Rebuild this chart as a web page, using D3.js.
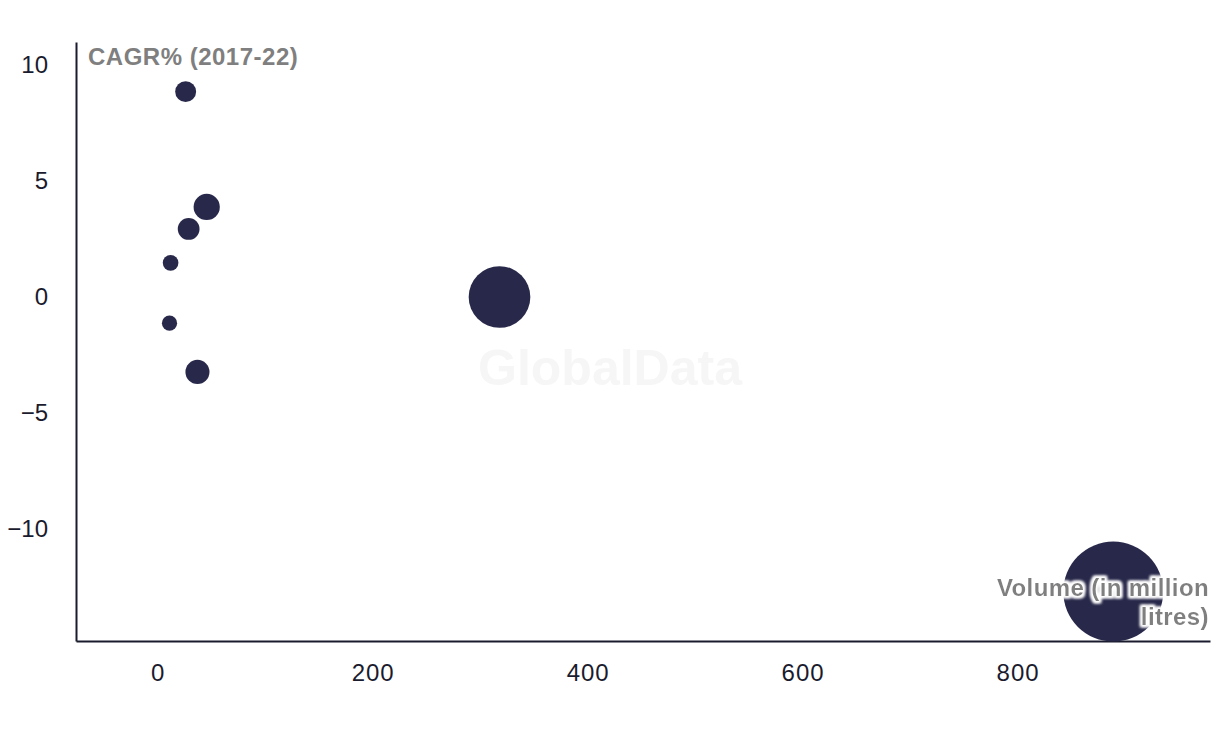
<!DOCTYPE html>
<html>
<head>
<meta charset="utf-8">
<script src="https://cdnjs.cloudflare.com/ajax/libs/d3/7.8.5/d3.min.js"></script>
<style>
  html, body { margin: 0; padding: 0; background: #fff; }
  svg text { font-family: "Liberation Sans", Arial, sans-serif; }
</style>
</head>
<body>
<div id="chart"></div>
<script>
// volume (million litres), CAGR% 2017-22
var volume = [26, 45.6, 28.8, 12, 11, 37, 318, 889];
var cagr = [8.85, 3.88, 2.93, 1.47, -1.13, -3.23, 0.0, -12.7];
var xTicks = [0, 200, 400, 600, 800];
var yTicks = [10, 5, 0, -5, -10];

var w = 1220, h = 732;
var plotLeft = 76, plotRight = 1210, plotTop = 42, plotBottom = 641;

var svg = d3.select('#chart').append('svg')
  .attr('width', w)
  .attr('height', h);

var x = d3.scaleLinear().domain([-76, 979]).range([plotLeft, plotRight]);
var y = d3.scaleLinear().domain([-14.83, 10.99]).range([plotBottom, plotTop]);
var r = d3.scaleSqrt().domain([0, d3.max(volume)]).range([2.3, 50]);

// white glow behind the axis title
var defs = svg.append('defs');
var glow = defs.append('filter').attr('id', 'glow')
  .attr('x', '-10%').attr('y', '-30%').attr('width', '120%').attr('height', '160%');
glow.append('feMorphology').attr('in', 'SourceAlpha').attr('operator', 'dilate').attr('radius', 1.6).attr('result', 'thick');
glow.append('feGaussianBlur').attr('in', 'thick').attr('stdDeviation', 1.6).attr('result', 'blur');
glow.append('feFlood').attr('flood-color', '#fff').attr('result', 'white');
glow.append('feComposite').attr('in', 'white').attr('in2', 'blur').attr('operator', 'in').attr('result', 'halo');
var merge = glow.append('feMerge');
merge.append('feMergeNode').attr('in', 'halo');
merge.append('feMergeNode').attr('in', 'halo');
merge.append('feMergeNode').attr('in', 'SourceGraphic');

// watermark
svg.append('text')
  .attr('x', 610)
  .attr('y', 385)
  .attr('text-anchor', 'middle')
  .style('font-size', '50px')
  .style('font-weight', 'bold')
  .style('fill', '#f6f6f6')
  .text('GlobalData');

var xAxis = svg.append('g')
  .attr('transform', 'translate(0,' + plotBottom + ')')
  .call(d3.axisBottom(x).tickValues(xTicks).tickSize(0).tickPadding(23));

var yAxis = svg.append('g')
  .attr('transform', 'translate(' + plotLeft + ',0)')
  .call(d3.axisLeft(y).tickValues(yTicks).tickSize(0).tickPadding(28));

[xAxis, yAxis].forEach(function(g) {
  g.select('.domain').attr('stroke', '#1b1b2e').attr('stroke-width', 2);
  g.selectAll('text')
    .style('font-size', '24px')
    .style('fill', '#1b1b2e');
});
xAxis.selectAll('text').style('letter-spacing', '1px');

var pts = volume.map(function(v, i) { return { v: v, c: cagr[i] }; });

svg.append('g').selectAll('circle')
  .data(pts)
  .enter().append('circle')
  .attr('cx', function(d) { return x(d.v); })
  .attr('cy', function(d) { return y(d.c); })
  .attr('r', function(d) { return r(d.v); })
  .attr('fill', '#28284a');

svg.append('text')
  .attr('x', 88)
  .attr('y', 65)
  .style('font-size', '24px')
  .style('font-weight', 'bold')
  .style('letter-spacing', '0.5px')
  .style('fill', '#7f7f7f')
  .text('CAGR% (2017-22)');

var xTitle = svg.append('text')
  .attr('text-anchor', 'end')
  .attr('filter', 'url(#glow)')
  .style('font-size', '24px')
  .style('font-weight', 'bold')
  .style('letter-spacing', '0.4px')
  .style('fill', '#7f7f7f');
xTitle.append('tspan').attr('x', 1209).attr('y', 596).text('Volume (in million');
xTitle.append('tspan').attr('x', 1209).attr('y', 625).text('litres)');
</script>
</body>
</html>
